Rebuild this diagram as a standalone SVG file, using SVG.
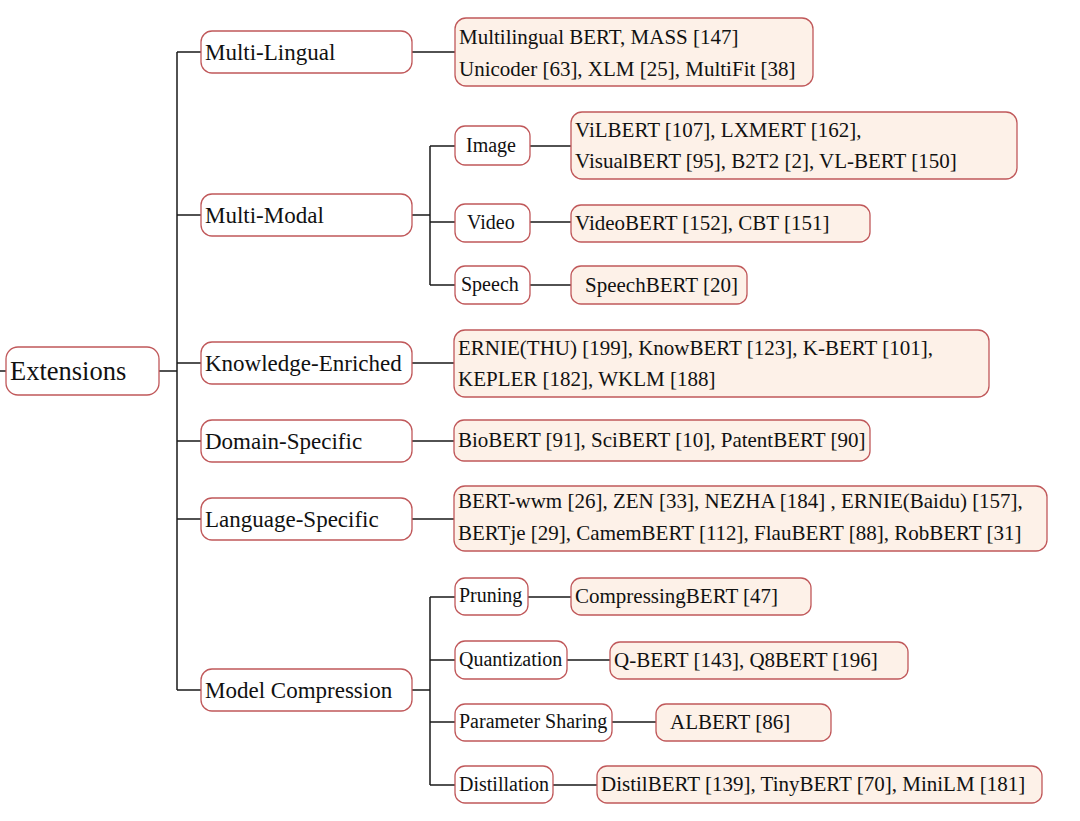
<svg xmlns="http://www.w3.org/2000/svg" width="1080" height="821" viewBox="0 0 1080 821">
<style>
.n{fill:#ffffff;stroke:#c0585a;stroke-width:1.3}
.l{fill:#fdf1e8;stroke:#c0585a;stroke-width:1.3}
.c{stroke:#1a1a1a;stroke-width:1.5;fill:none}
text{font-family:"Liberation Serif","Times New Roman",serif;fill:#111}
.t0{font-size:26.5px}
.t1{font-size:23px}
.t2{font-size:20px}
.t3{font-size:21px}
</style>
<rect width="1080" height="821" fill="#ffffff"/>
<g id="connectors">
<path class="c" d="M0 371H6 M159 371H177 M177 52V690 M177 52H201 M177 215H201 M177 363H201 M177 441H201 M177 519H201 M177 690H201"/>
<path class="c" d="M412 52H455 M412 363H454 M412 441H454 M412 519H454"/>
<path class="c" d="M412 215H430 M430 146V285 M430 146H455 M430 222H455 M430 285H455"/>
<path class="c" d="M530 146H571 M530 222H571 M530 285H571"/>
<path class="c" d="M412 690H430 M430 597V785 M430 597H455 M430 660H455 M430 722H455 M430 785H455"/>
<path class="c" d="M528 597H571 M567 660H610 M612 722H656 M553 785H597"/>
</g>
<g id="extensions"><rect class="n" x="6" y="347" width="153" height="48" rx="12"/><text class="t0" x="10" y="380">Extensions</text></g>
<g id="multi-lingual"><rect class="n" x="201" y="31" width="211" height="42" rx="11"/><text class="t1" x="205" y="60">Multi-Lingual</text></g>
<g id="multi-modal"><rect class="n" x="201" y="194" width="211" height="42" rx="11"/><text class="t1" x="205" y="223">Multi-Modal</text></g>
<g id="knowledge-enriched"><rect class="n" x="201" y="342" width="211" height="42" rx="11"/><text class="t1" x="205" y="371">Knowledge-Enriched</text></g>
<g id="domain-specific"><rect class="n" x="201" y="420" width="211" height="42" rx="11"/><text class="t1" x="205" y="449">Domain-Specific</text></g>
<g id="language-specific"><rect class="n" x="201" y="498" width="211" height="42" rx="11"/><text class="t1" x="205" y="527">Language-Specific</text></g>
<g id="model-compression"><rect class="n" x="201" y="669" width="211" height="42" rx="11"/><text class="t1" x="205" y="698">Model Compression</text></g>
<g id="ml-leaf"><rect class="l" x="455" y="18" width="358" height="68" rx="11"/><text class="t3" x="459" y="44">Multilingual BERT, MASS [147]</text><text class="t3" x="459" y="76">Unicoder [63], XLM [25], MultiFit [38]</text></g>
<g id="image"><rect class="n" x="455" y="126" width="75" height="39" rx="10"/><text class="t2" x="466" y="152">Image</text></g>
<g id="video"><rect class="n" x="455" y="204" width="75" height="38" rx="10"/><text class="t2" x="467" y="229">Video</text></g>
<g id="speech"><rect class="n" x="455" y="266" width="75" height="38" rx="10"/><text class="t2" x="461" y="291">Speech</text></g>
<g id="image-leaf"><rect class="l" x="571" y="112" width="446" height="67" rx="11"/><text class="t3" x="575" y="137">ViLBERT [107], LXMERT [162],</text><text class="t3" x="575" y="168">VisualBERT [95], B2T2 [2], VL-BERT [150]</text></g>
<g id="video-leaf"><rect class="l" x="571" y="205" width="299" height="37" rx="10"/><text class="t3" x="575" y="230">VideoBERT [152], CBT [151]</text></g>
<g id="speech-leaf"><rect class="l" x="571" y="266" width="176" height="38" rx="10"/><text class="t3" x="585" y="292">SpeechBERT [20]</text></g>
<g id="knowledge-leaf"><rect class="l" x="454" y="330" width="535" height="67" rx="11"/><text class="t3" x="458" y="355">ERNIE(THU) [199], KnowBERT [123], K-BERT [101],</text><text class="t3" x="458" y="386">KEPLER [182], WKLM [188]</text></g>
<g id="domain-leaf"><rect class="l" x="454" y="420" width="416" height="41" rx="10"/><text class="t3" x="458" y="447">BioBERT [91], SciBERT [10], PatentBERT [90]</text></g>
<g id="language-leaf"><rect class="l" x="454" y="486" width="593" height="65" rx="11"/><text class="t3" x="458" y="508">BERT-wwm [26], ZEN [33], NEZHA [184] , ERNIE(Baidu) [157],</text><text class="t3" x="458" y="540">BERTje [29], CamemBERT [112], FlauBERT [88], RobBERT [31]</text></g>
<g id="pruning"><rect class="n" x="455" y="578" width="73" height="37" rx="10"/><text class="t2" x="459" y="602">Pruning</text></g>
<g id="quantization"><rect class="n" x="455" y="641" width="112" height="38" rx="10"/><text class="t2" x="459" y="666">Quantization</text></g>
<g id="parameter-sharing"><rect class="n" x="455" y="704" width="157" height="37" rx="10"/><text class="t2" x="459" y="728">Parameter Sharing</text></g>
<g id="distillation"><rect class="n" x="455" y="766" width="98" height="37" rx="10"/><text class="t2" x="459" y="791">Distillation</text></g>
<g id="pruning-leaf"><rect class="l" x="571" y="578" width="240" height="37" rx="10"/><text class="t3" x="575" y="603">CompressingBERT [47]</text></g>
<g id="quantization-leaf"><rect class="l" x="610" y="642" width="298" height="37" rx="10"/><text class="t3" x="614" y="667">Q-BERT [143], Q8BERT [196]</text></g>
<g id="sharing-leaf"><rect class="l" x="656" y="704" width="175" height="37" rx="10"/><text class="t3" x="670" y="729">ALBERT [86]</text></g>
<g id="distillation-leaf"><rect class="l" x="597" y="766" width="445" height="37" rx="10"/><text class="t3" x="601" y="791">DistilBERT [139], TinyBERT [70], MiniLM [181]</text></g>
</svg>
